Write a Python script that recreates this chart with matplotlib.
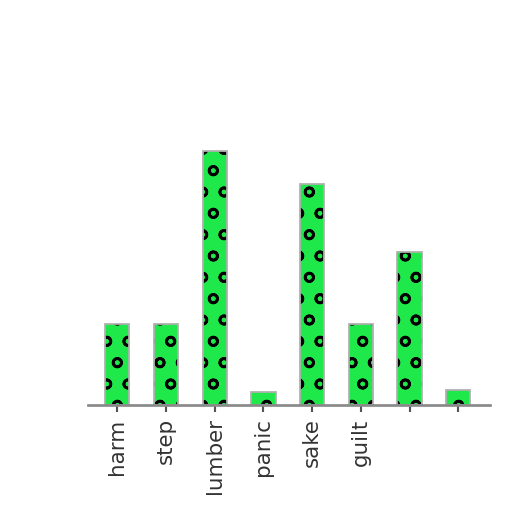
import matplotlib
matplotlib.use('Agg')
from matplotlib import pyplot as plt

categories = ['harm', 'step', 'lumber', 'panic', 'sake', 'guilt', '', '']
values = [32, 32, 100, 5, 87, 32, 60, 6]

plt.rcParams['hatch.linewidth'] = 1.5

fig = plt.figure(figsize=(4, 4), dpi=128)
ax = fig.add_axes([0.172, 0.209, 0.785, 0.69])

x = range(len(categories))
# fill + black hatch, then a light grey outline on top
ax.bar(x, values, width=0.5, color='#1ee84a', edgecolor='black',
       linewidth=0, hatch='o')
ax.bar(x, values, width=0.5, fill=False, edgecolor='#b0b0b0', linewidth=1.0)

ax.set_xlim(-0.6, 7.65)
ax.set_ylim(0, 139)
ax.set_xticks(list(x))
ax.set_xticklabels(categories, rotation=90, fontsize=12, color='#333333')
ax.set_yticks([])
for s in ['top', 'right', 'left']:
    ax.spines[s].set_visible(False)
ax.spines['bottom'].set_color('#888888')
ax.spines['bottom'].set_linewidth(1.5)
ax.tick_params(axis='x', colors='#555555', length=4, width=1.2, labelcolor='#333333')

fig.savefig('out.png', dpi=128)
